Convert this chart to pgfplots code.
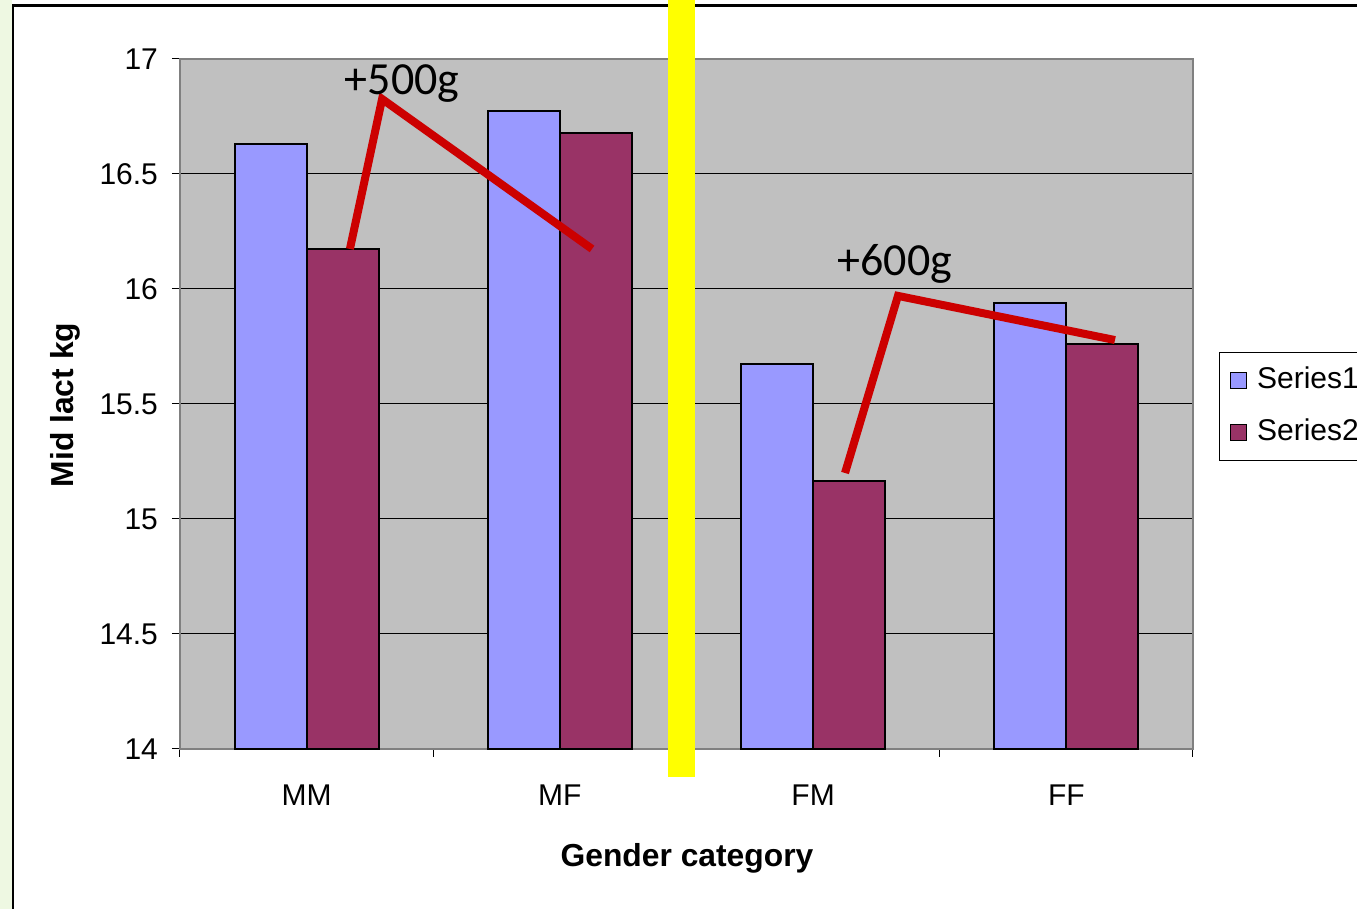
\documentclass[border=0pt]{standalone}
\usepackage{fontspec}
\setmainfont{Liberation Sans}
\newfontfamily\calibri{Carlito}
\usepackage{pgfplots}
\pgfplotsset{compat=1.18}
\definecolor{seriesA}{HTML}{9999FF}
\definecolor{seriesB}{HTML}{993366}
\definecolor{plotgray}{HTML}{C0C0C0}
\definecolor{framegray}{HTML}{808080}
\definecolor{markred}{HTML}{CC0000}
\definecolor{pagegreen}{HTML}{EEF8E2}
\definecolor{divider}{RGB}{255,255,0}

\begin{document}
\begin{tikzpicture}[x=1pt,y=1pt]
\useasboundingbox (0,0) rectangle (678.5,454.5);
\clip (0,0) rectangle (678.5,454.5);
\fill[pagegreen] (0,0) rectangle (6,454.5);
\draw[line width=1.3pt] (6.5,-5) -- (6.5,451.8) -- (700,451.8);
\begin{axis}[
  at={(90pt,80pt)}, anchor=south west,
  scale only axis, width=506.5pt, height=345pt,
  xmin=-0.5, xmax=3.5, ymin=14, ymax=17,
  xtick={0,1,2,3}, xticklabels={MM,MF,FM,FF},
  major x tick style={draw=none},
  minor xtick={-0.5,0.5,1.5,2.5,3.5},
  ytick={14,14.5,...,17},
  xtick pos=lower, ytick pos=left,
  tick align=outside, major tick length=4pt, minor tick length=4pt,
  tick style={black, line width=0.5pt},
  ymajorgrids, grid style={black, line width=0.5pt},
  axis background/.style={fill=plotgray},
  axis line style={framegray, line width=0.9pt},
  ticklabel style={font=\fontsize{15}{18}\selectfont},
  yticklabel style={xshift=-3.5pt},
  xticklabel style={yshift=-10.5pt},
  /pgf/number format/assume math mode=true,
  xlabel={Gender category}, ylabel={Mid lact kg},
  label style={font=\bfseries\fontsize{15.9}{18}\selectfont},
  xlabel style={at={(axis description cs:0.5005,-0.1580)}, anchor=center},
  ylabel style={at={(axis description cs:-0.1135,0.4986)}, anchor=center},
  clip=false,
  legend style={at={(rel axis cs:1.0257,0.5754)}, anchor=north west,
    draw=black, line width=0.5pt, fill=white,
    font=\fontsize{15}{18}\selectfont,
    inner xsep=5pt, inner ysep=5pt, row sep=8pt,
    nodes={inner sep=2pt, text height=11pt, text depth=3pt},
    /tikz/every odd column/.append style={column sep=3pt}},
  legend cell align=left,
]
\addlegendimage{legend image code/.code={\draw[fill=seriesA, draw=black, line width=0.8pt] (0pt,-4pt) rectangle (8pt,4pt);}}
\addlegendentry{Series1}
\addlegendimage{legend image code/.code={\draw[fill=seriesB, draw=black, line width=0.8pt] (0pt,-4pt) rectangle (8pt,4pt);}}
\addlegendentry{Series2}

% mid-lactation yield per gender category
\addplot[ybar, bar width=36pt, bar shift=-18pt, fill=seriesA, draw=black, line width=1pt, forget plot]
  coordinates {(0,16.63) (1,16.774) (2,15.674) (3,15.939)};
\addplot[ybar, bar width=36pt, bar shift=18pt, fill=seriesB, draw=black, line width=1pt, forget plot]
  coordinates {(0,16.174) (1,16.678) (2,15.165) (3,15.761)};

% divider between male-born and female-born groups
\addplot[draw=divider, line width=13.5pt, forget plot]
  coordinates {(1.48,13.878) (1.48,17.4)};

% difference markers
\addplot[markred, line width=4pt, line join=miter, forget plot]
  coordinates {(0.171,16.174) (0.298,16.826) (1.127,16.174)};
\addplot[markred, line width=4pt, line join=miter, forget plot]
  coordinates {(2.126,15.2) (2.335,15.97) (3.192,15.778)};

\node[font=\calibri\fontsize{23}{27}\selectfont] at (axis cs:0.377,16.895) {+500g};
\node[font=\calibri\fontsize{23}{27}\selectfont] at (axis cs:2.323,16.11) {+600g};
\end{axis}
\end{tikzpicture}
\end{document}
